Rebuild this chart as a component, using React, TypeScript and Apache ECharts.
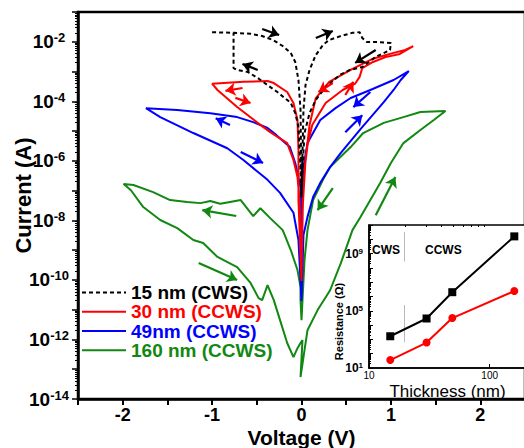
import React, { useEffect, useRef } from 'react';
import * as echarts from 'echarts';

const FONT = '"Liberation Sans", Arial, Helvetica, sans-serif';

// ---- main I-V data (voltage in V, current in A) ----
// 15 nm (CWS)
const volt15 = [-1.0, -0.76, -0.57, -0.44, -0.32, -0.21, -0.12, -0.07, -0.034, -0.011, 0, 0.022, 0.045, 0.09, 0.16, 0.24, 0.31, 0.44, 0.57, 0.65, 0.68, 0.73, 0.86, 1.0, 0.99, 0.83, 0.68, 0.54, 0.43, 0.27, 0.16, 0.09, 0.034, 0.011, 0, -0.011, -0.034, -0.07, -0.12, -0.27, -0.38, -0.49, -0.6, -0.72, -0.76, -0.76];
const amp15 = [2.1e-2, 2.0e-2, 1.85e-2, 1.56e-2, 1.15e-2, 7.2e-3, 4.2e-3, 2.1e-3, 5.2e-4, 5.1e-5, 6.8e-8, 5.1e-5, 3.5e-4, 1.13e-3, 3.6e-3, 7.8e-3, 1.15e-2, 1.56e-2, 2.0e-2, 2.1e-2, 1.34e-2, 9.8e-3, 9.8e-3, 9.1e-3, 5.3e-3, 3.1e-3, 1.42e-3, 1.13e-3, 7.7e-4, 3.0e-4, 1.12e-4, 4.0e-5, 8.7e-6, 5.0e-7, 5.7e-8, 5.0e-7, 1.38e-5, 4.0e-5, 8.8e-5, 2.05e-4, 3.5e-4, 6.1e-4, 9.6e-4, 1.13e-3, 1.31e-3, 2.0e-2];

// 30 nm (CCWS)
const volt30 = [0, -0.034, -0.034, -0.045, -0.09, -0.16, -0.31, -0.38, -0.65, -1.0, -0.94, -0.72, -0.49, -0.35, -0.16, -0.09, -0.045, -0.022, 0, 0.011, 0.034, 0.067, 0.12, 0.27, 0.46, 0.6, 0.65, 0.68, 0.8, 0.94, 1.1, 1.25, 1.16, 1.02, 0.8, 0.57, 0.31, 0.16, 0.09, 0.045, 0.011, 0];
const amp30 = [9.2e-11, 4.8e-8, 2.3e-6, 2.35e-5, 8.8e-5, 2.05e-4, 4.1e-4, 4.8e-4, 4.5e-4, 3.9e-4, 2.4e-4, 6.4e-5, 1.88e-5, 9.2e-6, 3.95e-6, 1.07e-6, 2.85e-7, 4.8e-8, 9.2e-11, 2.2e-8, 4.9e-7, 3.35e-6, 1.6e-5, 8.8e-5, 2.4e-4, 3.9e-4, 6.6e-4, 1.31e-3, 2.1e-3, 3.05e-3, 3.9e-3, 7.1e-3, 5.3e-3, 4.15e-3, 2.7e-3, 1.22e-3, 4.5e-4, 1.29e-4, 1.6e-5, 1.07e-6, 2.2e-8, 9.2e-11];

// 49 nm (CCWS)
const volt49 = [0, -0.011, -0.07, -0.13, -0.28, -0.38, -0.54, -0.72, -1.02, -1.39, -1.74, -1.58, -1.21, -0.83, -0.65, -0.38, -0.24, -0.09, -0.034, 0, 0.022, 0.067, 0.13, 0.21, 0.32, 0.44, 0.66, 0.92, 1.03, 1.11, 1.2, 1.03, 0.77, 0.55, 0.38, 0.21, 0.067, 0.022, 0.011, 0];
const amp49 = [1.95e-11, 1.32e-7, 8.5e-7, 2.9e-6, 7.3e-6, 1.27e-5, 2.0e-5, 2.95e-5, 4.0e-5, 5.1e-5, 5.9e-5, 2.95e-5, 8.6e-6, 2.65e-6, 1.07e-6, 2.3e-7, 8.4e-8, 1.8e-8, 2.2e-9, 1.95e-11, 3.2e-9, 1.31e-8, 6.1e-8, 1.82e-7, 6.2e-7, 1.85e-6, 1.17e-5, 9.4e-5, 2.4e-4, 5.2e-4, 1.04e-3, 5.2e-4, 2.4e-4, 1.29e-4, 5.9e-5, 2.35e-5, 3.95e-6, 6.2e-7, 4.8e-8, 1.95e-11];

// 160 nm (CCWS)
const volt160 = [-0.011, 0.067, 0.18, 0.32, 0.44, 0.57, 0.66, 0.77, 0.88, 1.0, 1.14, 1.33, 1.48, 1.61, 1.33, 1.14, 0.92, 0.69, 0.55, 0.32, 0.24, 0.13, 0.067, 0.034, 0.011, 0, -0.011, -0.011, -0.045, -0.12, -0.21, -0.35, -0.46, -0.54, -0.68, -0.8, -0.91, -1.02, -1.13, -1.28, -1.47, -1.66, -1.88, -1.99, -1.91, -1.77, -1.58, -1.39, -1.21, -1.1, -0.94, -0.72, -0.57, -0.48, -0.44, -0.38, -0.31, -0.24, -0.16, -0.09, -0.045, -0.011, 0.011, -0.011];
const amp160 = [5.4e-14, 2.05e-12, 9.7e-12, 4.5e-11, 3.65e-10, 4.7e-9, 1.29e-8, 4.8e-8, 1.8e-7, 8.5e-7, 3.95e-6, 1.09e-5, 2.35e-5, 4.7e-5, 4.35e-5, 2.95e-5, 1.88e-5, 8.6e-6, 2.9e-6, 6.2e-7, 2.3e-7, 4.8e-8, 4.7e-9, 4.7e-10, 2.1e-11, 4.45e-12, 2.1e-11, 5.75e-11, 2.15e-10, 1.01e-9, 4.7e-9, 1.19e-8, 2.55e-8, 1.39e-8, 4.8e-8, 4.15e-8, 3.6e-8, 4.5e-8, 3.8e-8, 4.15e-8, 4.8e-8, 8.9e-8, 1.54e-7, 1.66e-7, 1.05e-7, 2.8e-8, 1.03e-8, 5.5e-9, 2.2e-9, 1.75e-9, 5.9e-10, 2.7e-10, 7.9e-11, 2.45e-11, 2.1e-11, 6.7e-11, 2.1e-11, 4.45e-12, 7.6e-13, 2.55e-13, 5.1e-13, 7.6e-13, 9.5e-13, 5.4e-14];

// sweep-direction arrows: [V start, I start, V end, I end]
const arrows15 = [[-0.44, 2.7e-2, -0.25, 1.68e-2], [0.16, 1.34e-2, 0.35, 2.3e-2], [0.83, 5.3e-3, 0.6, 1.95e-3], [-0.49, 1.13e-3, -0.66, 1.79e-3]];
const arrows30 = [[-0.66, 2.8e-4, -0.85, 2.25e-4], [-0.74, 1.3e-4, -0.57, 8.8e-5], [0.35, 4.1e-4, 0.19, 2.05e-4], [0.49, 1.63e-4, 0.58, 4.5e-4]];
const arrows49 = [[-0.8, 1.6e-5, -0.96, 2.7e-5], [-0.68, 1.97e-6, -0.43, 8.5e-7], [0.77, 2.05e-4, 0.58, 6.4e-5], [0.49, 9.2e-6, 0.68, 3.4e-5]];
const arrows160 = [[-0.73, 1.4e-8, -1.11, 2.2e-8], [-1.15, 3.7e-10, -0.72, 9.9e-11], [0.35, 1.22e-7, 0.18, 2.2e-8], [0.83, 1.5e-8, 1.05, 2.85e-7]];

// ---- inset data ----
const thickness = [15, 30, 49, 160];
const resHigh = [1660, 29000, 2.0e6, 1.6e10];
const resLow = [36, 600, 31000, 2.4e6];
const boundaryThickness = 19.5;

const names = ['15 nm (CWS)', '30 nm (CCWS)', '49nm (CCWS)', '160 nm (CCWS)'];
const colors = ['#000000', '#ff0000', '#0000ff', '#118811'];
const xTickLabels = [-2, -1, 0, 1, 2];
const yTickLabels = [-14, -12, -10, -8, -6, -4, -2];
const insetYLabels = [1, 5, 9];
const insetXLabels = [1, 2];

const lg = (x: number) => Math.log10(x);
const pairs = (vs: number[], is: number[]) => vs.map((v, k) => [v, lg(is[k])]);
const minorDecades = (from: number, to: number) => {
  const out: number[] = [];
  for (let k = from; k < to; k++) for (let m = 2; m <= 9; m++) out.push(k + lg(m));
  return out;
};
const range = (a: number, b: number) => { const o: number[] = []; for (let k = a; k <= b; k++) o.push(k); return o; };

export default function App() {
  const ref = useRef<HTMLDivElement>(null);
  useEffect(() => {
    if (!ref.current) return;
    const chart = echarts.init(ref.current, undefined, { renderer: 'svg' });
    const arrowSeries = (arr: number[][], color: string) => ({
      type: 'lines',
      coordinateSystem: 'cartesian2d',
      xAxisIndex: 0,
      yAxisIndex: 0,
      symbol: ['none', 'arrow'],
      symbolSize: 10,
      silent: true,
      z: 6,
      lineStyle: { color, width: 2.2, opacity: 1 },
      data: arr.map((a) => ({ coords: [[a[0], lg(a[1])], [a[2], lg(a[3])]] })),
    });
    const curve = (name: string, data: number[][], color: string, dashed: boolean, z: number) => ({
      name,
      type: 'line',
      xAxisIndex: 0,
      yAxisIndex: 0,
      data,
      symbol: 'none',
      showSymbol: false,
      z,
      lineStyle: { color, width: 2, type: dashed ? [4, 3] : 'solid' },
      itemStyle: { color },
    });
    const expLabelRich = (big: number, small: number, raise: number) => ({
      b: { fontSize: big, fontWeight: 'bold', fontFamily: FONT, color: '#000' },
      s: { fontSize: small, fontWeight: 'bold', fontFamily: FONT, color: '#000', padding: [0, 0, raise, 0] },
    });
    const insetXMinor = [2, 3, 4, 5, 6, 7, 8, 9].map((m) => 1 + lg(m));

    chart.setOption({
      animation: false,
      backgroundColor: '#fff',
      textStyle: { fontFamily: FONT },
      grid: [
        { left: 78, right: -1, top: 12, bottom: 49, show: true, borderColor: '#000', borderWidth: 2.5, backgroundColor: 'transparent', outerBoundsMode: 'none' },
        { left: 369, right: -2, top: 225, bottom: 80, show: true, borderColor: '#000', borderWidth: 1.5, backgroundColor: '#fff', outerBoundsMode: 'none' },
      ],
      legend: {
        data: names.map((n, k) => ({ name: n, textStyle: { color: colors[k] } })),
        orient: 'vertical',
        left: 81,
        top: 283,
        padding: 0,
        itemWidth: 44,
        itemHeight: 24,
        itemGap: 0,
        selectedMode: false,
        itemStyle: { opacity: 0 },
        textStyle: { fontSize: 19, fontWeight: 'bold', fontFamily: FONT },
      },
      xAxis: [
        {
          type: 'value', gridIndex: 0, min: -2.5, max: 2.5, interval: 0.5,
          name: 'Voltage (V)', nameLocation: 'middle', nameGap: 28, nameMoveOverlap: false,
          nameTextStyle: { fontSize: 21, fontWeight: 'bold', color: '#000', fontFamily: FONT },
          axisLine: { show: true, onZero: false, lineStyle: { color: '#000', width: 2.5 } },
          axisTick: { show: true, inside: false, length: 6, lineStyle: { color: '#000', width: 2 } },
          axisLabel: { customValues: xTickLabels, formatter: (v: number) => String(v), fontSize: 18, fontWeight: 'bold', color: '#000', margin: 7, fontFamily: FONT },
          splitLine: { show: false },
        },
        {
          type: 'value', gridIndex: 1, min: 1, max: lg(200),
          name: 'Thickness (nm)', nameLocation: 'middle', nameGap: 15, nameMoveOverlap: false,
          nameTextStyle: { fontSize: 17, color: '#000', fontFamily: FONT },
          axisLine: { show: true, onZero: false, lineStyle: { color: '#000', width: 1.5 } },
          axisTick: { show: true, inside: true, length: 4, customValues: insetXLabels, lineStyle: { color: '#000', width: 1 } },
          axisLabel: { customValues: insetXLabels, formatter: (v: number) => String(Math.round(Math.pow(10, v))), fontSize: 10, color: '#000', margin: 2, fontFamily: FONT },
          splitLine: { show: false },
        },
        {
          type: 'value', gridIndex: 1, min: 1, max: lg(200),
          axisLine: { show: false, onZero: false },
          axisTick: { show: true, inside: true, length: 2, customValues: insetXMinor, lineStyle: { color: '#000', width: 1 } },
          axisLabel: { show: false },
          splitLine: { show: false },
        },
      ],
      yAxis: [
        {
          type: 'value', gridIndex: 0, min: -14, max: -1, interval: 1,
          name: 'Current (A)', nameLocation: 'middle', nameGap: 44, nameMoveOverlap: false,
          nameTextStyle: { fontSize: 22, fontWeight: 'bold', color: '#000', fontFamily: FONT, padding: [0, 0, 0, 20] },
          axisLine: { show: true, onZero: false, lineStyle: { color: '#000', width: 2.5 } },
          axisTick: { show: true, inside: false, length: 6, customValues: range(-14, -1), lineStyle: { color: '#000', width: 1.5 } },
          axisLabel: {
            customValues: yTickLabels,
            formatter: (v: number) => `{b|10}{s|${v}}`,
            rich: expLabelRich(19, 13, 8),
            align: 'center',
            margin: 29,
          },
          splitLine: { show: false },
        },
        {
          type: 'value', gridIndex: 0, min: -14, max: -1, position: 'left',
          axisLine: { show: false, onZero: false },
          axisTick: { show: true, inside: false, length: 3, customValues: minorDecades(-14, -1), lineStyle: { color: '#000', width: 1 } },
          axisLabel: { show: false },
          splitLine: { show: false },
        },
        {
          type: 'value', gridIndex: 1, min: 1, max: 11, interval: 1,
          name: 'Resistance (Ω)', nameLocation: 'middle', nameGap: 25, nameMoveOverlap: false,
          nameTextStyle: { fontSize: 11, fontWeight: 'bold', color: '#000', fontFamily: FONT, padding: [0, 50, 0, 0] },
          axisLine: { show: true, onZero: false, lineStyle: { color: '#000', width: 1.5 } },
          axisTick: { show: true, inside: true, length: 4, customValues: range(1, 11), lineStyle: { color: '#000', width: 1 } },
          axisLabel: {
            customValues: insetYLabels,
            formatter: (v: number) => `{b|10}{s|${v}}`,
            rich: expLabelRich(12, 8, 5),
            margin: 6,
          },
          splitLine: { show: false },
        },
        {
          type: 'value', gridIndex: 1, min: 1, max: 11, position: 'left',
          axisLine: { show: false, onZero: false },
          axisTick: { show: true, inside: true, length: 2, customValues: minorDecades(1, 11), lineStyle: { color: '#000', width: 1 } },
          axisLabel: { show: false },
          splitLine: { show: false },
        },
      ],
      graphic: [
        { type: 'text', left: 372, top: 244, style: { text: 'CWS', fontSize: 12, fontWeight: 'bold', fontFamily: FONT, fill: '#000' }, z: 20 },
        { type: 'text', left: 425, top: 244, style: { text: 'CCWS', fontSize: 12, fontWeight: 'bold', fontFamily: FONT, fill: '#000' }, z: 20 },
      ],
      series: [
        curve(names[3], pairs(volt160, amp160), colors[3], false, 2),
        curve(names[2], pairs(volt49, amp49), colors[2], false, 3),
        curve(names[1], pairs(volt30, amp30), colors[1], false, 4),
        curve(names[0], pairs(volt15, amp15), colors[0], true, 5),
        arrowSeries(arrows15, colors[0]),
        arrowSeries(arrows30, colors[1]),
        arrowSeries(arrows49, colors[2]),
        arrowSeries(arrows160, colors[3]),
        {
          type: 'lines', coordinateSystem: 'cartesian2d', xAxisIndex: 1, yAxisIndex: 2, silent: true, z: 6,
          lineStyle: { color: '#b8b8b8', width: 1, opacity: 1 },
          data: [
            { coords: [[lg(boundaryThickness), 10.5], [lg(boundaryThickness), 8.45]] },
            { coords: [[lg(boundaryThickness), 5.4], [lg(boundaryThickness), 2.8]] },
          ],
        },
        {
          name: 'R-high', type: 'line', xAxisIndex: 1, yAxisIndex: 2, z: 7,
          data: thickness.map((t, k) => [lg(t), lg(resHigh[k])]),
          symbol: 'rect', symbolSize: 8, showSymbol: true,
          lineStyle: { color: '#000', width: 2 }, itemStyle: { color: '#000' },
        },
        {
          name: 'R-low', type: 'line', xAxisIndex: 1, yAxisIndex: 2, z: 7,
          data: thickness.map((t, k) => [lg(t), lg(resLow[k])]),
          symbol: 'circle', symbolSize: 8, showSymbol: true,
          lineStyle: { color: '#ff0000', width: 2 }, itemStyle: { color: '#ff0000' },
        },
      ],
    });
    return () => chart.dispose();
  }, []);
  return <div ref={ref} style={{ width: 524, height: 448, position: 'absolute', left: 0, top: 0 }} />;
}
